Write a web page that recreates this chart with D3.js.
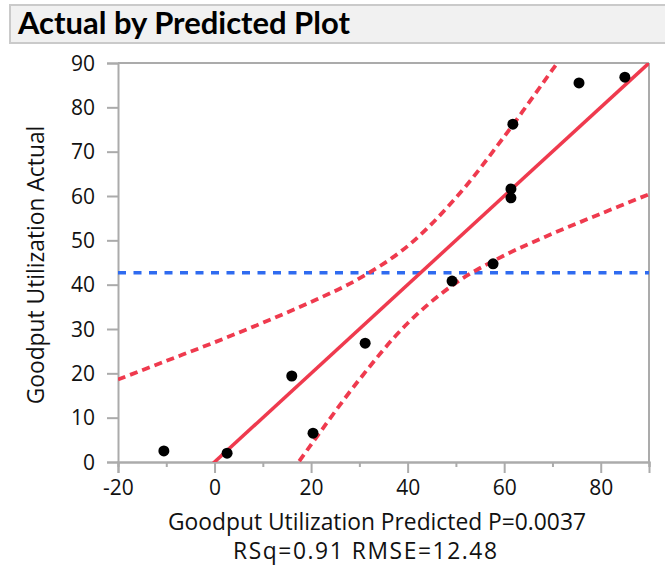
<!DOCTYPE html>
<html>
<head>
<meta charset="utf-8">
<script src="https://cdn.jsdelivr.net/npm/d3@7"></script>
<style>
  html, body { margin: 0; padding: 0; background: #fff; }
  svg { display: block; }
</style>
</head>
<body>
<svg id="chart" width="665" height="567"></svg>
<script>
// ---- data ----
const predicted = [-10.5, 2.6, 16.0, 20.4, 31.2, 49.2, 57.7, 61.4, 61.4, 61.8, 75.5, 85.0];
const actual    = [2.5, 2.0, 19.4, 6.5, 26.8, 40.8, 44.7, 61.6, 59.6, 76.2, 85.5, 86.8];
const fitX = [-20, 90];
const fitY = [-20, 90];
const upperX = [-20, -10, 0, 10, 20, 30, 40, 50, 60, 70, 72];
const upperY = [18.6, 22.8, 27.0, 31.4, 36.1, 41.4, 48.7, 59.6, 73.4, 88.5, 91.5];
const lowerX = [16, 20, 30, 40, 50, 60, 70, 80, 90];
const lowerY = [-2.2, 3.9, 18.6, 31.3, 40.4, 46.6, 51.5, 56.0, 60.4];
const xMajorTicks = [-20, 0, 20, 40, 60, 80];
const xMinorTicks = [-10, 10, 30, 50, 70, 90];
const yTicks = [0, 10, 20, 30, 40, 50, 60, 70, 80, 90];
const titleText = "Actual by Predicted Plot";
const xTitle1 = "Goodput Utilization Predicted P=0.0037";
const xTitle2 = "RSq=0.91 RMSE=12.48";
const yTitle = "Goodput Utilization Actual";

// ---- layout ----
const L = 118, R = 649, T = 63, B = 462;
const FONT = "'Open Sans', 'Noto Sans', sans-serif";
const AXIS = "#ababab";
const RED = "#ef3a4e";
const BLUE = "#2f6bf0";

const svg = d3.select("#chart");

function fit(sel, target) {
  const node = sel.node();
  const fs = parseFloat(sel.attr("font-size"));
  const w = node.getComputedTextLength();
  if (w > 0) sel.attr("font-size", (fs * target / w).toFixed(2));
  return parseFloat(sel.attr("font-size"));
}

// header
svg.append("rect").attr("x", 10).attr("y", 5).attr("width", 700).attr("height", 38)
  .attr("fill", "#f1f1f1").attr("stroke", "#cacaca").attr("stroke-width", 2);
const ttl = svg.append("text").attr("x", 18).attr("y", 34)
  .attr("font-family", "Lato, 'Open Sans', sans-serif").attr("font-weight", "bold")
  .attr("font-size", 28).attr("fill", "#000").text(titleText);
fit(ttl, 332);

const x = d3.scaleLinear().domain([-20, 90]).range([L, R]);
const y = d3.scaleLinear().domain([0, 90]).range([B, T]);

// frame (top & right)
svg.append("line").attr("x1", L).attr("x2", R).attr("y1", T).attr("y2", T)
  .attr("stroke", AXIS).attr("stroke-width", 2);
svg.append("line").attr("x1", R).attr("x2", R).attr("y1", T).attr("y2", B)
  .attr("stroke", AXIS).attr("stroke-width", 2);

// x axis minor
const gxMinor = svg.append("g").attr("transform", `translate(0,${B})`)
  .call(d3.axisBottom(x).tickValues(xMinorTicks).tickSize(5).tickFormat(""));
// x axis major
const gx = svg.append("g").attr("transform", `translate(0,${B})`)
  .call(d3.axisBottom(x).tickValues(xMajorTicks).tickSize(11).tickPadding(7).tickFormat(d3.format("d")));
// y axis
const gy = svg.append("g").attr("transform", `translate(${L},0)`)
  .call(d3.axisLeft(y).tickValues(yTicks).tickSize(11).tickPadding(12).tickFormat(d3.format("d")));

[gxMinor, gx, gy].forEach(g => {
  g.selectAll(".domain").attr("stroke", AXIS).attr("stroke-width", 2);
  g.selectAll(".tick line").attr("stroke", AXIS).attr("stroke-width", 2);
  g.selectAll(".tick text").attr("font-family", FONT).attr("font-size", 21).attr("fill", "#111");
});
gx.selectAll(".tick text").text(d => d < 0 ? "-" + Math.abs(d) : d);
gy.selectAll(".tick text").attr("dy", "0.34em");

// clip
svg.append("clipPath").attr("id", "plotclip").append("rect")
  .attr("x", L).attr("y", T).attr("width", R - L).attr("height", B - T);
const plot = svg.append("g").attr("clip-path", "url(#plotclip)");

// mean line
const meanActual = d3.mean(actual);
plot.append("line").attr("x1", x(-20)).attr("x2", x(90))
  .attr("y1", y(meanActual)).attr("y2", y(meanActual))
  .attr("stroke", BLUE).attr("stroke-width", 3.5).attr("stroke-dasharray", "8,7.5");

const line = d3.line().x(d => x(d[0])).y(d => y(d[1])).curve(d3.curveCatmullRom);
plot.append("path").datum(d3.zip(upperX, upperY)).attr("d", line)
  .attr("fill", "none").attr("stroke", RED).attr("stroke-width", 3.8).attr("stroke-dasharray", "8,5");
plot.append("path").datum(d3.zip(lowerX, lowerY)).attr("d", line)
  .attr("fill", "none").attr("stroke", RED).attr("stroke-width", 3.8).attr("stroke-dasharray", "8,5");
plot.append("path").datum(d3.zip(fitX, fitY)).attr("d", d3.line().x(d => x(d[0])).y(d => y(d[1])))
  .attr("fill", "none").attr("stroke", RED).attr("stroke-width", 3.5);

// points
plot.selectAll("circle.pt").data(d3.zip(predicted, actual)).join("circle")
  .attr("class", "pt").attr("cx", d => x(d[0])).attr("cy", d => y(d[1])).attr("r", 5.5).attr("fill", "#000");

// axis titles
const xt1 = svg.append("text").attr("x", 377).attr("y", 530).attr("text-anchor", "middle")
  .attr("font-family", FONT).attr("font-size", 19).attr("fill", "#111").text(xTitle1);
const fs1 = fit(xt1, 418);
svg.append("text").attr("x", 365).attr("y", 559).attr("text-anchor", "middle")
  .attr("font-family", FONT).attr("font-size", fs1).attr("fill", "#111")
  .attr("textLength", 264).attr("lengthAdjust", "spacing").text(xTitle2);
const yt = svg.append("text").attr("transform", "translate(44,265) rotate(-90)").attr("text-anchor", "middle")
  .attr("font-family", FONT).attr("font-size", fs1).attr("fill", "#111").text(yTitle);
</script>
</body>
</html>
